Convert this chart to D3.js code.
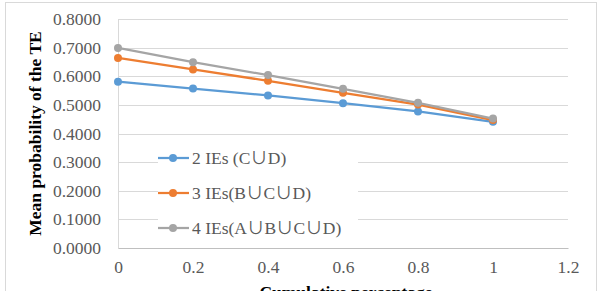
<!DOCTYPE html>
<html>
<head>
<meta charset="utf-8">
<script src="https://cdn.jsdelivr.net/npm/d3@7"></script>
<style>
  body { margin: 0; background: #fff; }
  svg, svg text { font-family: "Liberation Serif", "Noto Sans CJK SC", serif !important; }
</style>
</head>
<body>
<div id="chart"></div>
<script>
// data
const xValues = [0, 0.2, 0.4, 0.6, 0.8, 1];
const seriesNames = ["2 IEs (C\u222AD)", "3 IEs(B\u222AC\u222AD)", "4 IEs(A\u222AB\u222AC\u222AD)"];
const twoIEs = [0.581, 0.557, 0.533, 0.506, 0.477, 0.441];
const threeIEs = [0.664, 0.624, 0.584, 0.542, 0.501, 0.447];
const fourIEs = [0.699, 0.649, 0.604, 0.556, 0.507, 0.452];
const colors = ["#5B9BD5", "#ED7D31", "#A5A5A5"];
const yTicks = [0, 0.1, 0.2, 0.3, 0.4, 0.5, 0.6, 0.7, 0.8];
const xTicks = [0, 0.2, 0.4, 0.6, 0.8, 1, 1.2];

const W = 601, H = 291;
const fs = 17.5;
const margin = { top: 19, right: 33, bottom: 43, left: 118 };
const width = W - margin.left - margin.right,
  height = H - margin.top - margin.bottom;

const root = d3.select("#chart").append("svg")
  .attr("width", W).attr("height", H);

// outer chart border
root.append("rect")
  .attr("x", 5.5).attr("y", 2.5)
  .attr("width", 591).attr("height", 300)
  .attr("fill", "none").attr("stroke", "#d9d9d9");

const svg = root.append("g")
  .attr("transform", `translate(${margin.left},${margin.top})`);

const x = d3.scaleLinear().domain([0, 1.2]).range([0, width]);
const y = d3.scaleLinear().domain([0, 0.8]).range([height, 0]);

// horizontal gridlines
svg.append("g")
  .selectAll("line")
  .data(yTicks.slice(1))
  .join("line")
  .attr("x1", 0).attr("x2", width)
  .attr("y1", (d) => Math.round(y(d)) + 0.5)
  .attr("y2", (d) => Math.round(y(d)) + 0.5)
  .attr("stroke", "#d9d9d9");

// axes
const yAxis = svg.append("g")
  .call(d3.axisLeft(y).tickValues(yTicks).tickFormat(d3.format(".4f")).tickSize(0).tickPadding(17));
const xAxis = svg.append("g")
  .attr("transform", `translate(0,${height})`)
  .call(d3.axisBottom(x).tickValues(xTicks).tickFormat((d) => String(+d.toFixed(1))).tickSize(0).tickPadding(13));

[yAxis, xAxis].forEach((ax) => {
  ax.attr("font-family", null).attr("font-size", fs);
  ax.select(".domain").attr("stroke", "#d9d9d9");
  ax.selectAll("text").attr("fill", "#595959");
});
xAxis.select(".domain").attr("stroke", "#bfbfbf");

// lines and markers
const allSeries = [twoIEs, threeIEs, fourIEs];
const line = d3.line().x((d, i) => x(xValues[i])).y((d) => y(d));

allSeries.forEach((vals, k) => {
  svg.append("path")
    .datum(vals)
    .attr("fill", "none")
    .attr("stroke", colors[k])
    .attr("stroke-width", 2.25)
    .attr("d", line);
  svg.append("g")
    .selectAll("circle")
    .data(vals)
    .join("circle")
    .attr("cx", (d, i) => x(xValues[i]))
    .attr("cy", (d) => y(d))
    .attr("r", 4)
    .attr("fill", colors[k]);
});

// legend
const legend = root.append("g").attr("transform", "translate(158,158)");
seriesNames.forEach((name, k) => {
  const g = legend.append("g").attr("transform", `translate(0,${k * 35})`);
  g.append("rect").attr("x", 0).attr("y", -10).attr("width", 200).attr("height", 20).attr("fill", "#fff");
  g.append("line").attr("x1", 0).attr("x2", 31).attr("y1", 0).attr("y2", 0)
    .attr("stroke", colors[k]).attr("stroke-width", 2.25);
  g.append("circle").attr("cx", 15).attr("cy", 0).attr("r", 4).attr("fill", colors[k]);
  g.append("text").attr("x", 34).attr("y", 0).attr("dy", "0.35em")
    .attr("font-size", fs).attr("fill", "#595959").text(name);
});

// axis titles
root.append("text")
  .attr("transform", `translate(41,${margin.top + height / 2}) rotate(-90)`)
  .attr("text-anchor", "middle")
  .attr("font-size", fs).attr("font-weight", "bold")
  .text("Mean probability of the TE");

// the reference crops this title at the bottom edge, only its top shows
root.append("text")
  .attr("x", margin.left + width / 2 + 3).attr("y", 298)
  .attr("text-anchor", "middle")
  .attr("font-size", fs).attr("font-weight", "bold")
  .text("Cumulative percentage");
</script>
</body>
</html>
